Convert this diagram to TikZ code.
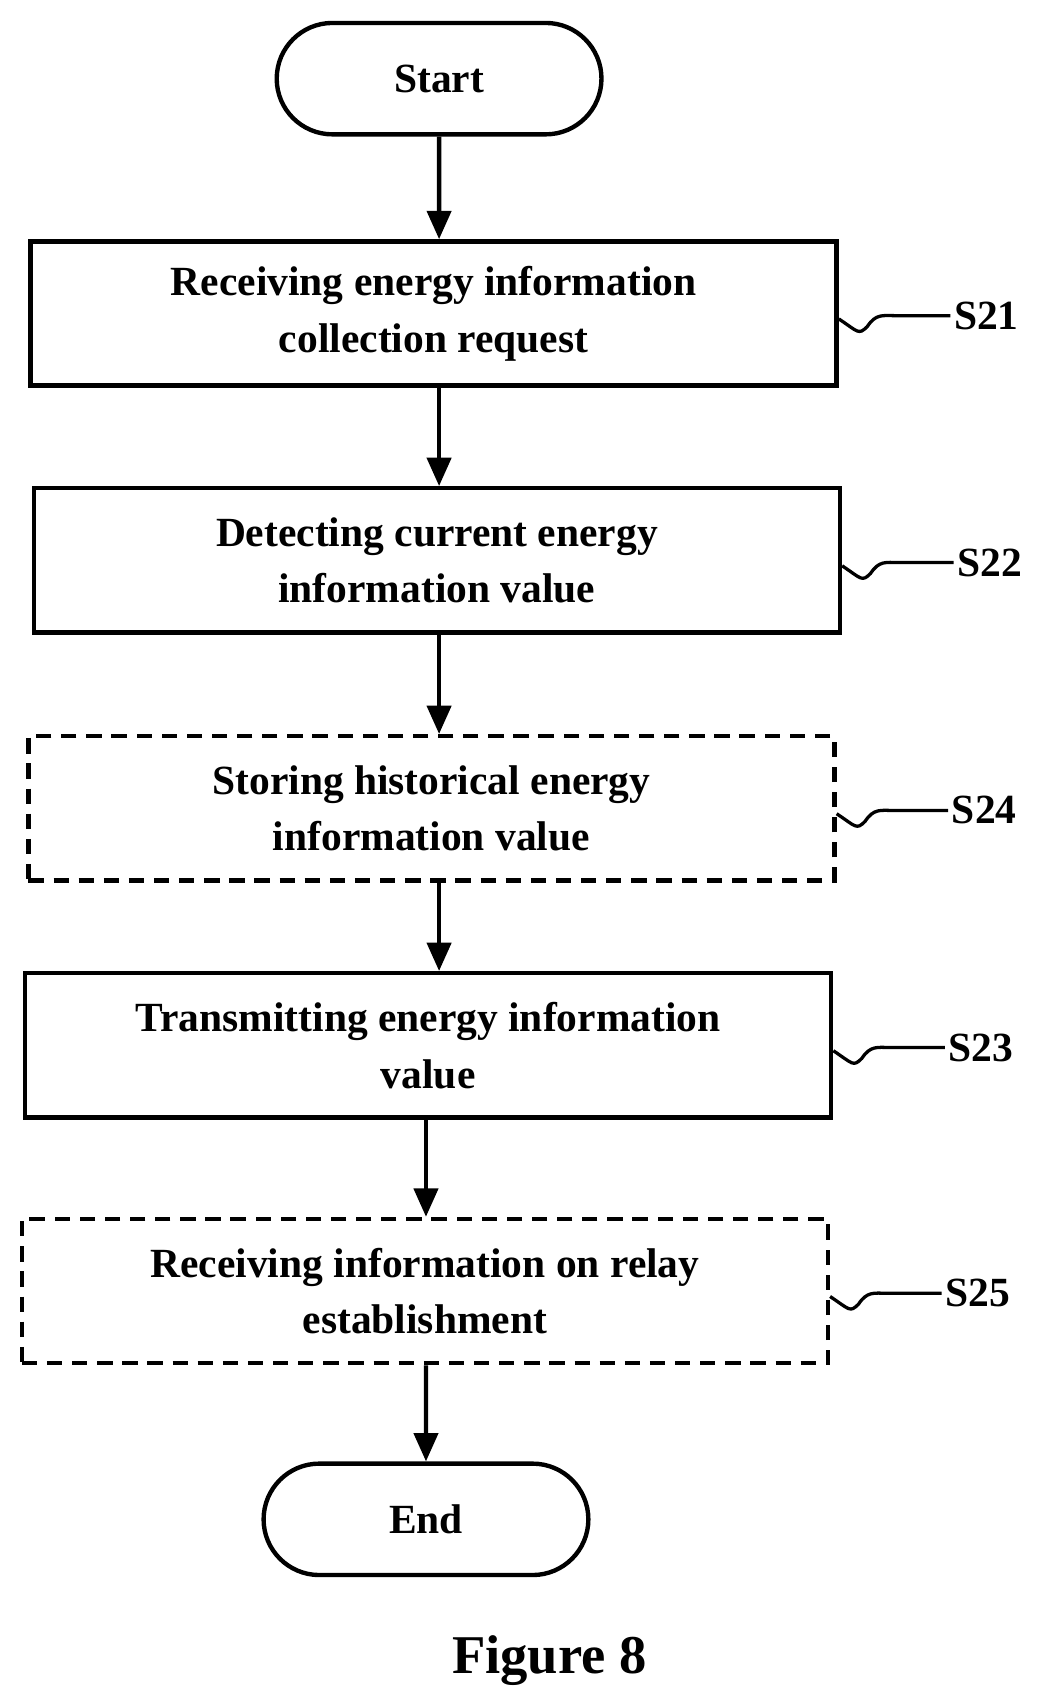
\documentclass[tikz,border=0pt]{standalone}
\usepackage{fontspec}
\setmainfont{Liberation Serif}
\usetikzlibrary{arrows.meta,shapes.misc}
\tikzset{%
  >={Triangle[width=22pt,length=26pt]},
  % Specifications for style of nodes:
  base/.style = {
    rectangle,
    draw=black,
    line width=4pt,
    text centered,
    align=center,
    font=\fontsize{38}{52}\selectfont\bfseries
  },
  stepbox/.style = {base, minimum width=738pt, minimum height=132pt},
  optbox/.style = {stepbox, dash pattern=on 14pt off 9pt},
  term/.style = {base, rounded rectangle, minimum width=304pt, minimum height=102pt},
  tag/.style = {font=\fontsize{38}{46}\selectfont\bfseries},
  squig/.style = {line width=3pt},
}
\begin{document}
\begin{tikzpicture}[x=1pt,y=-1pt]
  \useasboundingbox (0,0) rectangle (960,1561);
  % nodes
  \node (start) [term] at (402,72) {Start};
  \node (s21) [stepbox] at (397,287) {Receiving energy information\\collection request};
  \node (s22) [stepbox] at (400,513) {Detecting current energy\\information value};
  \node (s24) [optbox] at (395,740) {Storing historical energy\\information value};
  \node (s23) [stepbox] at (392,957) {Transmitting energy information\\value};
  \node (s25) [optbox] at (389,1182) {Receiving information on relay\\establishment};
  \node (end) [term] at (390,1391) {End};
  \node (fig) [font=\fontsize{50}{60}\selectfont\bfseries] at (503,1520) {Figure 8};
  % lines
  \draw[->, line width=4pt] (start) -- (s21.north -| start);
  \draw[->, line width=4pt] (s21.south -| start) -- (s22.north -| start);
  \draw[->, line width=4pt] (s22.south -| start) -- (s24.north -| start);
  \draw[->, line width=4pt] (s24.south -| start) -- (s23.north -| start);
  \draw[->, line width=4pt] (s23.south -| end) -- (s25.north -| end);
  \draw[->, line width=4pt] (s25.south -| end) -- (end);
  % step labels
  \foreach \b/\t in {s21/S21, s22/S22, s24/S24, s23/S23, s25/S25} {
    \node (\b_tag) [tag, anchor=west] at ([xshift=102pt,yshift=-2pt]\b.east) {\t};
    \draw[squig] ([yshift=-5pt]\b.east) .. controls +(18,12) and +(-8,8) .. ([xshift=26pt,yshift=-12pt]\b.east)
      .. controls +(8,-12) and +(-12,0) .. ([xshift=52pt,yshift=-2pt]\b.east) -- (\b_tag.west);
  }
\end{tikzpicture}
\end{document}
